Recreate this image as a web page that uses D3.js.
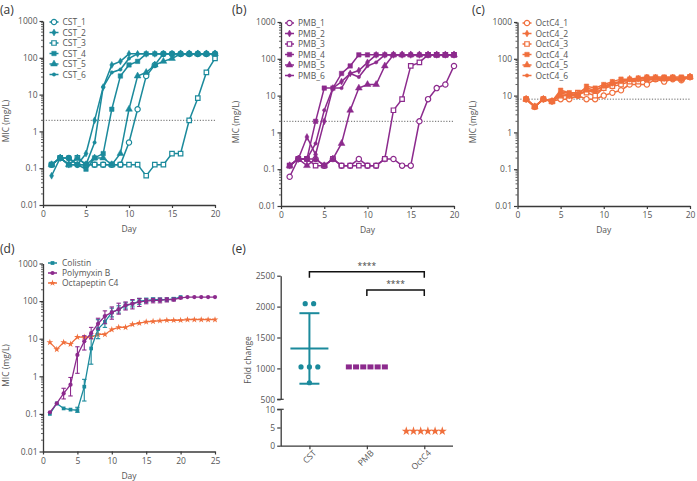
<!DOCTYPE html>
<html><head><meta charset="utf-8">
<script src="https://cdn.jsdelivr.net/npm/d3@7"></script>
<style>body{margin:0;background:#fff} text{font-family:"Open Sans","Liberation Sans",sans-serif}</style>
</head><body><svg id="chart" width="697" height="481"></svg>
<script>
// ---------- DATA ----------
const days20 = d3.range(1, 21);
const days25 = d3.range(1, 26);
const cstNames = ["CST_1","CST_2","CST_3","CST_4","CST_5","CST_6"];
const pmbNames = ["PMB_1","PMB_2","PMB_3","PMB_4","PMB_5","PMB_6"];
const octNames = ["OctC4_1","OctC4_2","OctC4_3","OctC4_4","OctC4_5","OctC4_6"];

const CST_1 = [0.125,0.19,0.19,0.125,0.125,0.125,0.125,0.125,0.125,0.5,4,32,64,128,128,128,128,128,128,128];
const CST_2 = [0.0625,0.19,0.125,0.125,0.25,2,16,64,80,128,128,128,128,128,128,128,128,128,128,128];
const CST_3 = [0.125,0.19,0.125,0.19,0.125,0.125,0.125,0.125,0.125,0.125,0.125,0.0625,0.125,0.125,0.25,0.25,2,8,40,96];
const CST_4 = [0.125,0.19,0.19,0.125,0.094,0.19,0.25,4,32,64,80,128,128,128,128,128,128,128,128,128];
const CST_5 = [0.125,0.19,0.125,0.19,0.125,0.19,0.19,0.125,0.25,4,32,40,64,80,96,128,128,128,128,128];
const CST_6 = [0.125,0.19,0.125,0.125,0.125,0.5,16,40,48,96,128,128,128,128,128,128,128,128,128,128];

const PMB_1 = [0.0625,0.19,0.19,0.19,0.125,0.19,0.125,0.125,0.19,0.125,0.125,0.19,0.19,0.125,0.125,2,8,16,20,64];
const PMB_2 = [0.125,0.19,0.75,0.25,2,16,24,40,48,80,128,128,128,128,128,128,128,128,128,128];
const PMB_3 = [0.125,0.19,0.19,0.125,0.125,0.19,0.125,0.125,0.125,0.125,0.125,0.19,4,8,64,80,128,128,128,128];
const PMB_4 = [0.125,0.19,0.19,2,16,16,40,64,128,128,128,128,128,128,128,128,128,128,128,128];
const PMB_5 = [0.125,0.19,0.125,0.19,0.125,0.19,0.5,4,16,20,20,64,128,128,128,128,128,128,128,128];
const PMB_6 = [0.125,0.19,0.19,0.5,4,16,16,40,32,64,80,128,128,128,128,128,128,128,128,128];

const OctC4_1 = [8,5,8,7,8,8,10,8,8,10,12,14,20,20,20,28,24,28,26,32];
const OctC4_2 = [8,5,8,7,12,10,10,14,12,16,20,24,26,28,30,30,30,30,28,32];
const OctC4_3 = [8,5,8,7,10,10,12,12,10,16,18,20,24,24,28,28,30,30,30,32];
const OctC4_4 = [8,5,8,7,14,12,10,18,16,20,24,28,28,30,32,32,32,32,32,32];
const OctC4_5 = [8,5,8,7,10,10,10,14,14,18,22,24,28,28,30,30,28,30,28,32];
const OctC4_6 = [8,5,8,7,12,12,12,16,14,18,20,24,26,26,26,28,28,28,26,32];

const breakpointCST = 2, breakpointPMB = 2, breakpointOct = 8;

const dNames = ["Colistin","Polymyxin B","Octapeptin C4"];
const colMean = [0.1,0.19,0.14,0.13,0.125,0.53,5.5,18,28,50,60,75,85,100,105,110,110,110,115,128];
const colLow  = [0.1,0.19,0.14,0.13,0.11,0.22,2.1,10,20,38,48,62,70,82,92,98,100,100,105,128];
const colHigh = [0.1,0.19,0.14,0.13,0.15,0.83,12,32,40,65,75,90,105,118,120,122,120,120,125,128];
const pmbMean = [0.11,0.19,0.35,0.6,3.7,8.5,14,25,40,50,60,78,85,95,100,105,105,110,110,122,128,128,128,128,128];
const pmbLow  = [0.11,0.19,0.25,0.3,1.2,5,10,18,25,33,45,58,62,72,85,90,90,95,100,115,128,128,128,128,128];
const pmbHigh = [0.11,0.19,0.48,0.93,6.1,12,20,35,55,70,88,95,110,118,115,118,120,122,120,128,128,128,128,128,128];
const octMean = [8,5.2,8,7.2,11,11,11,13,13,17.5,20,20,24,26,28,29,30,31,31,31,32,32,32,32,32];

const eCats = ["CST","PMB","OctC4"];
const cstFold = [2048,2048,1024,1024,1024,768];
const pmbFold = [1024,1024,1024,1024,1024,1024];
const octFold = [4,4,4,4,4,4];
const eTop = [500,1000,1500,2000,2500];
const eBottom = [0,5,10];
const logTicks = [0.01,0.1,1,10,100,1000];

// ---------- STYLE ----------
const TEAL = "#1b8a9c", PURPLE = "#8c2a8d", ORANGE = "#f06f3c";
const AX = "#3a3a3a", TXT = "#555";
const svg = d3.select("#chart");

function styleAxis(g) {
  g.selectAll(".domain").attr("stroke", AX).attr("stroke-width", 1.3);
  g.selectAll(".tick line").attr("stroke", AX).attr("stroke-width", 1.2);
  g.selectAll(".tick text").attr("fill", TXT).attr("font-size", 8.5)
    .style("font-family", '"Open Sans",sans-serif');
}

function markerPath(type) {
  const map = {
    circleOpen: [d3.symbolCircle, 22], circle: [d3.symbolCircle, 14],
    squareOpen: [d3.symbolSquare, 20], square: [d3.symbolSquare, 20],
    triangle: [d3.symbolTriangle, 20], diamond: [d3.symbolDiamond, 14],
    dot: [d3.symbolCircle, 9], star: [d3.symbolStar, 22]
  };
  const m = map[type];
  return d3.symbol().type(m[0]).size(m[1])();
}
const openTypes = new Set(["circleOpen","squareOpen"]);
const seriesMarkers = ["circleOpen","diamond","squareOpen","square","triangle","dot"];

function drawMarker(g, type, color, x, y) {
  g.append("path").attr("d", markerPath(type))
    .attr("transform", `translate(${x},${y})`)
    .attr("fill", openTypes.has(type) ? "#fff" : color)
    .attr("stroke", color).attr("stroke-width", openTypes.has(type) ? 1.2 : 0.5);
}

function panelLabel(x, y, label) {
  svg.append("text").attr("x", x).attr("y", y)
    .attr("font-size", 12).attr("fill", "#333").text(label);
}

function logPanel(cfg) {
  const x = d3.scaleLinear().domain([0, cfg.xmax]).range([cfg.x0, cfg.x1]);
  const y = d3.scaleLog().domain([0.01, 1000]).range([cfg.yb, cfg.yt]);
  const gx = svg.append("g").attr("transform", `translate(0,${cfg.yb})`)
    .call(d3.axisBottom(x).tickValues(cfg.xticks).tickSize(3).tickSizeOuter(0).tickPadding(3));
  styleAxis(gx);
  const gy = svg.append("g").attr("transform", `translate(${cfg.x0},0)`)
    .call(d3.axisLeft(y).tickValues(logTicks).tickFormat(d => String(d)).tickSize(3.5).tickSizeOuter(0).tickPadding(2));
  styleAxis(gy);
  // minor log ticks
  const minor = [];
  logTicks.slice(0, -1).forEach(t => { for (let k = 2; k <= 9; k++) minor.push(t * k); });
  svg.append("g").selectAll("line").data(minor).join("line")
    .attr("x1", cfg.x0).attr("x2", cfg.x0 - 2)
    .attr("y1", d => y(d)).attr("y2", d => y(d))
    .attr("stroke", AX).attr("stroke-width", 0.8);
  // labels
  svg.append("text").attr("transform", `translate(${cfg.ylabX},${(cfg.yt + cfg.yb) / 2 + 8}) rotate(-90)`)
    .attr("text-anchor", "middle").attr("font-size", 8.5).attr("fill", TXT).text("MIC (mg/L)");
  svg.append("text").attr("x", (cfg.x0 + cfg.x1) / 2).attr("y", cfg.yb + 27)
    .attr("text-anchor", "middle").attr("font-size", 8.5).attr("fill", TXT).text("Day");
  panelLabel(cfg.labX, cfg.labY, cfg.label);
  return { x, y };
}

function seriesPanel(cfg, names, series, color, breakpoint) {
  const { x, y } = logPanel(cfg);
  // breakpoint dotted line
  svg.append("line").attr("x1", x(0)).attr("x2", x(20))
    .attr("y1", y(breakpoint)).attr("y2", y(breakpoint))
    .attr("stroke", "#555").attr("stroke-width", 0.9).attr("stroke-dasharray", "1.2,1.6");
  const line = d3.line().x((d, i) => x(days20[i])).y(d => y(d));
  series.forEach((vals, si) => {
    const g = svg.append("g");
    g.append("path").datum(vals).attr("d", line).attr("fill", "none")
      .attr("stroke", color).attr("stroke-width", 1.5);
    vals.forEach((v, i) => drawMarker(g, seriesMarkers[si], color, x(days20[i]), y(v)));
  });
  // legend
  names.forEach((n, i) => {
    const ly = cfg.legY + i * 10.5;
    const g = svg.append("g");
    g.append("line").attr("x1", cfg.legX).attr("x2", cfg.legX + 9).attr("y1", ly).attr("y2", ly)
      .attr("stroke", color).attr("stroke-width", 1.5);
    drawMarker(g, seriesMarkers[i], color, cfg.legX + 4.5, ly);
    g.append("text").attr("x", cfg.legX + 13).attr("y", ly + 3).attr("font-size", 8.5)
      .attr("fill", TXT).text(n);
  });
}

seriesPanel({ x0: 43, x1: 215, yt: 21, yb: 205, xmax: 20, xticks: [0,5,10,15,20],
  ylabX: 9, labX: 0, labY: 14, label: "(a)", legX: 49.5, legY: 22 },
  cstNames, [CST_1, CST_2, CST_3, CST_4, CST_5, CST_6], TEAL, breakpointCST);
seriesPanel({ x0: 281, x1: 454, yt: 22, yb: 206, xmax: 20, xticks: [0,5,10,15,20],
  ylabX: 239, labX: 232, labY: 14, label: "(b)", legX: 285, legY: 23 },
  pmbNames, [PMB_1, PMB_2, PMB_3, PMB_4, PMB_5, PMB_6], PURPLE, breakpointPMB);
seriesPanel({ x0: 517.5, x1: 690, yt: 22, yb: 206, xmax: 20, xticks: [0,5,10,15,20],
  ylabX: 476, labX: 472, labY: 14, label: "(c)", legX: 522.5, legY: 23 },
  octNames, [OctC4_1, OctC4_2, OctC4_3, OctC4_4, OctC4_5, OctC4_6], ORANGE, breakpointOct);

// ---------- Panel d ----------
(function () {
  const cfg = { x0: 43, x1: 215, yt: 263.5, yb: 451.5, xmax: 25, xticks: [0,5,10,15,20,25],
    ylabX: 9, labX: 0, labY: 253, label: "(d)" };
  const { x, y } = logPanel(cfg);
  const defs = [
    { mean: octMean, days: days25, color: ORANGE, m: "star", low: null, high: null },
    { mean: colMean, days: days20, color: TEAL, m: "square", low: colLow, high: colHigh },
    { mean: pmbMean, days: days25, color: PURPLE, m: "circle", low: pmbLow, high: pmbHigh }
  ];
  const symFor = m => m === "star" ? d3.symbolStar : m === "square" ? d3.symbolSquare : d3.symbolCircle;
  defs.forEach(s => {
    const g = svg.append("g");
    if (s.low) {
      s.mean.forEach((v, i) => {
        const xx = x(s.days[i]), a = y(s.low[i]), b = y(s.high[i]);
        if (Math.abs(a - b) < 1) return;
        g.append("line").attr("x1", xx).attr("x2", xx).attr("y1", a).attr("y2", b)
          .attr("stroke", s.color).attr("stroke-width", 1.1);
        [a, b].forEach(yy => g.append("line").attr("x1", xx - 2.2).attr("x2", xx + 2.2)
          .attr("y1", yy).attr("y2", yy).attr("stroke", s.color).attr("stroke-width", 1.1));
      });
    }
    g.append("path").datum(s.mean)
      .attr("d", d3.line().x((d, i) => x(s.days[i])).y(d => y(d)))
      .attr("fill", "none").attr("stroke", s.color).attr("stroke-width", 1.3);
    s.mean.forEach((v, i) => {
      g.append("path").attr("d", d3.symbol().type(symFor(s.m)).size(14)())
        .attr("transform", `translate(${x(s.days[i])},${y(v)})`).attr("fill", s.color);
    });
  });
  const legM = ["square", "circle", "star"], legC = [TEAL, PURPLE, ORANGE];
  dNames.forEach((n, i) => {
    const ly = 263 + i * 10;
    svg.append("line").attr("x1", 48).attr("x2", 57).attr("y1", ly).attr("y2", ly)
      .attr("stroke", legC[i]).attr("stroke-width", 1.5);
    svg.append("path").attr("d", d3.symbol().type(symFor(legM[i])).size(14)())
      .attr("transform", `translate(52.5,${ly})`).attr("fill", legC[i]);
    svg.append("text").attr("x", 62).attr("y", ly + 3).attr("font-size", 8.5).attr("fill", TXT).text(n);
  });
})();

// ---------- Panel e ----------
(function () {
  const x0 = 280.7, x1 = 453;
  const x = d3.scalePoint().domain(eCats).range([x0, x1]).padding(0.5);
  const yT = d3.scaleLinear().domain([500, 2500]).range([399.3, 275.7]);
  const yB = d3.scaleLinear().domain([0, 10]).range([445.7, 409.3]);
  const yv = v => v >= 500 ? yT(v) : yB(v);
  const fmt = d3.format("d");

  const gT = svg.append("g").attr("transform", `translate(${x0},0)`)
    .call(d3.axisLeft(yT).tickValues(eTop).tickFormat(fmt).tickSize(3.5).tickSizeOuter(0).tickPadding(2));
  styleAxis(gT);
  const gB = svg.append("g").attr("transform", `translate(${x0},0)`)
    .call(d3.axisLeft(yB).tickValues(eBottom).tickFormat(fmt).tickSize(3.5).tickSizeOuter(0).tickPadding(2));
  styleAxis(gB);
  [yT(500), yB(10)].forEach(yy => svg.append("line").attr("x1", x0 - 3.5).attr("x2", x0 + 3)
    .attr("y1", yy).attr("y2", yy).attr("stroke", AX).attr("stroke-width", 1.2));
  const gX = svg.append("g").attr("transform", `translate(0,${yB(0)})`)
    .call(d3.axisBottom(x).tickSize(3.5).tickSizeOuter(0));
  styleAxis(gX);
  gX.select(".domain").attr("d", `M${x0},0.5H${x1}`);
  gX.selectAll(".tick text").attr("text-anchor", "end")
    .attr("transform", "translate(3,4) rotate(-45)").attr("dy", "0.3em").attr("y", 3);

  svg.append("text").attr("transform", `translate(251,360) rotate(-90)`)
    .attr("text-anchor", "middle").attr("font-size", 8.5).attr("fill", TXT).text("Fold change");
  panelLabel(232, 253, "(e)");

  function offsets(vals, spacing) {
    const counts = d3.rollup(vals, v => v.length, d => d);
    const seen = new Map();
    return vals.map(v => {
      const n = counts.get(v), k = seen.get(v) || 0; seen.set(v, k + 1);
      return (k - (n - 1) / 2) * spacing;
    });
  }
  const m = d3.mean(cstFold), sd = d3.deviation(cstFold), cx = x("CST");
  const gc = svg.append("g").attr("stroke", TEAL).attr("stroke-width", 2);
  gc.append("line").attr("x1", cx).attr("x2", cx).attr("y1", yT(m + sd)).attr("y2", yT(m - sd));
  gc.append("line").attr("x1", cx - 19).attr("x2", cx + 19).attr("y1", yT(m)).attr("y2", yT(m));
  [m + sd, m - sd].forEach(v => gc.append("line").attr("x1", cx - 10).attr("x2", cx + 10)
    .attr("y1", yT(v)).attr("y2", yT(v)));
  const oc = offsets(cstFold, 8.4);
  cstFold.forEach((v, i) => svg.append("circle").attr("cx", cx + oc[i]).attr("cy", yv(v))
    .attr("r", 2.6).attr("fill", TEAL));
  const op = offsets(pmbFold, 7.2), px = x("PMB");
  pmbFold.forEach((v, i) => svg.append("rect").attr("x", px + op[i] - 3).attr("y", yv(v) - 2.5)
    .attr("width", 6).attr("height", 5).attr("fill", PURPLE));
  const oo = offsets(octFold, 7.2), ox = x("OctC4");
  octFold.forEach((v, i) => svg.append("path").attr("d", d3.symbol().type(d3.symbolStar).size(26)())
    .attr("transform", `translate(${ox + oo[i]},${yv(v)})`).attr("fill", ORANGE));

  function bracket(a, b, yy, label) {
    const xa = x(a), xb = x(b);
    svg.append("path").attr("d", `M${xa},${yy + 6}V${yy}H${xb}V${yy + 6}`)
      .attr("fill", "none").attr("stroke", "#111").attr("stroke-width", 1.5);
    svg.append("text").attr("x", (xa + xb) / 2).attr("y", yy - 3).attr("text-anchor", "middle")
      .attr("font-size", 8.5).attr("fill", "#444").text(label);
  }
  bracket("CST", "OctC4", 271.7, "****");
  bracket("PMB", "OctC4", 290, "****");
})();
</script></body></html>
